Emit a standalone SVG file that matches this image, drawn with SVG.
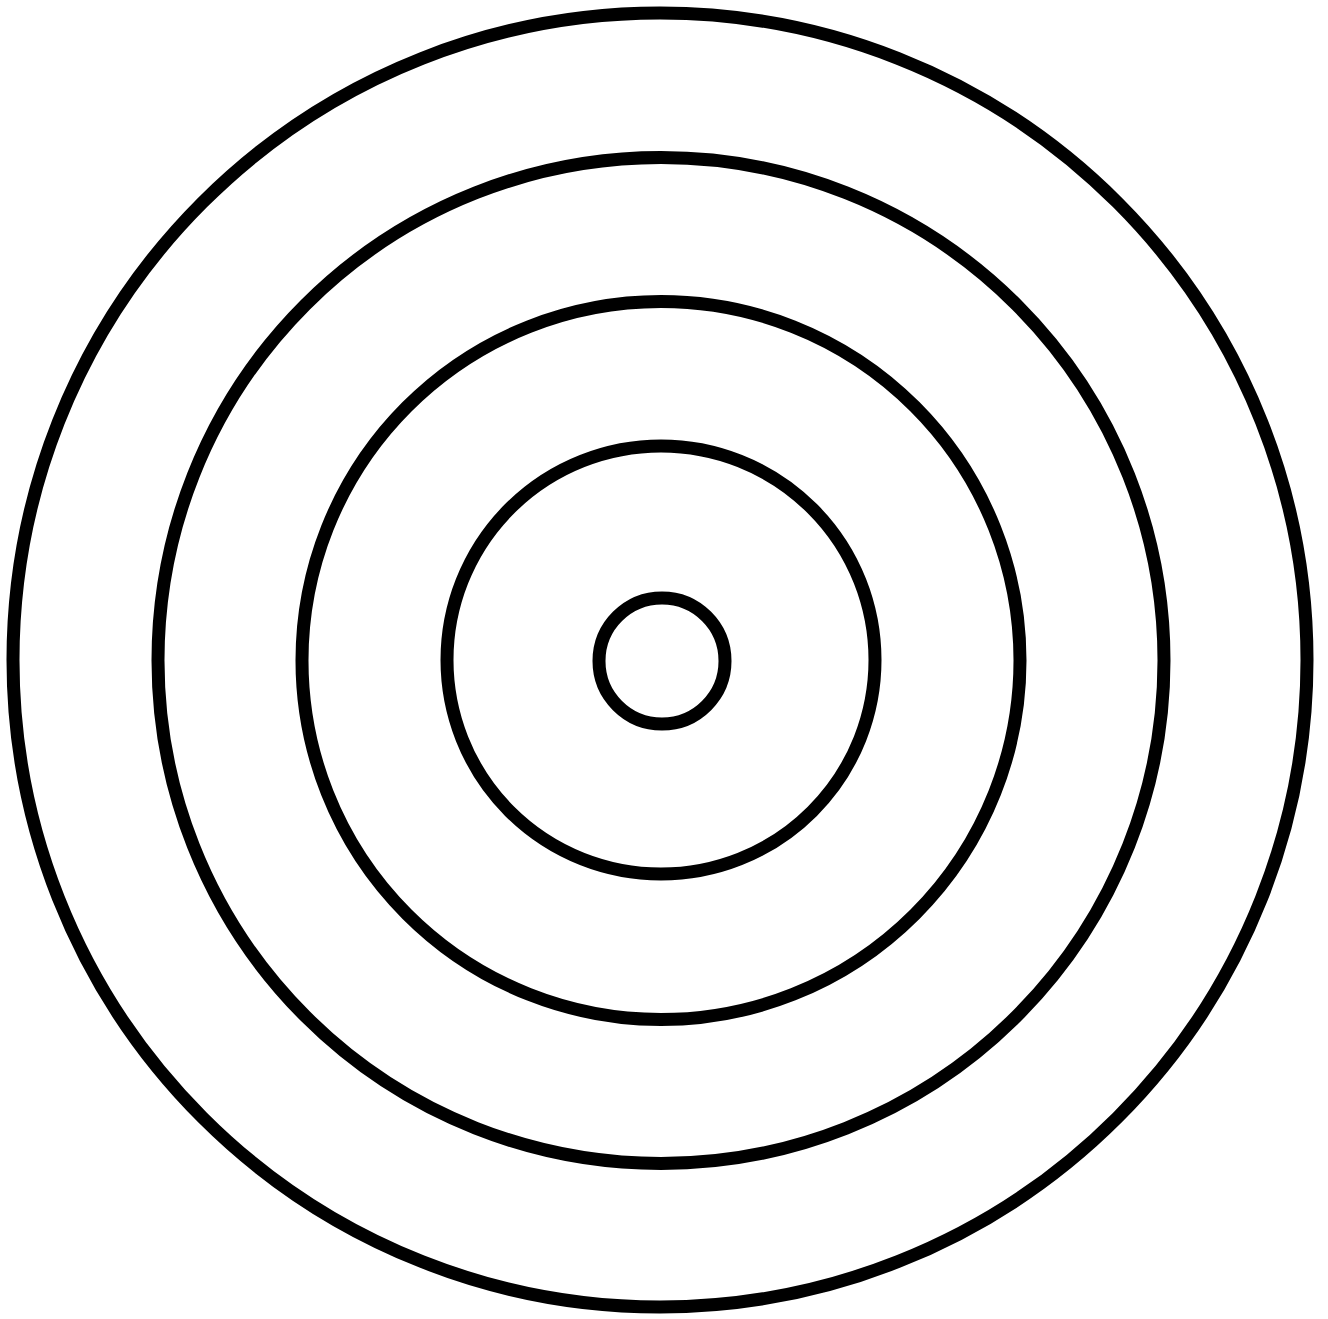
<svg xmlns="http://www.w3.org/2000/svg" width="1328" height="1319" viewBox="0 0 1328 1319">
<style>
.ring{fill:none;stroke:#000;stroke-width:13}
</style>
<rect width="1328" height="1319" fill="#fff"/>
<g id="ring1"><circle class="ring" cx="660" cy="660" r="647"/></g>
<g id="ring2"><circle class="ring" cx="661" cy="660.5" r="503"/></g>
<g id="ring3"><circle class="ring" cx="661" cy="660.5" r="359"/></g>
<g id="ring4"><circle class="ring" cx="661" cy="660" r="214"/></g>
<g id="ring5"><circle class="ring" cx="662" cy="661" r="63"/></g>
<g id="connectors"></g>
</svg>
